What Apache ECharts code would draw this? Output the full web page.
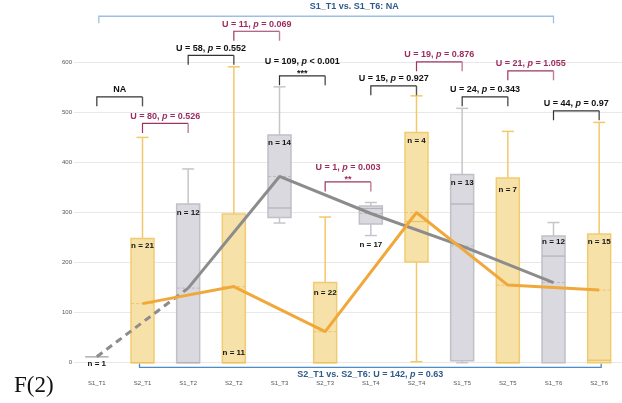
<!DOCTYPE html>
<html>
<head>
<meta charset="utf-8">
<script src="https://cdn.jsdelivr.net/npm/echarts@6/dist/echarts.min.js"></script>
<style>
  html, body { margin: 0; padding: 0; background: #ffffff; }
  #chart { width: 622px; height: 403px; }
</style>
</head>
<body>
<div id="chart"></div>
<script>
// ---- data ----
const categories  = ['S1_T1', 'S2_T1', 'S1_T2', 'S2_T2', 'S1_T3', 'S2_T3', 'S1_T4', 'S2_T4', 'S1_T5', 'S2_T5', 'S1_T6', 'S2_T6'];
const whiskerLow  = [12, 0, 0, 0, 279, 0, 254, 2, 0, 0, 0, 0];
const quartile1   = [12, 0, 0, 0, 290, 0, 277, 201, 4, 0, 0, 0];
const medians     = [12, 0, 0, 0, 309, 0, 308, 282, 317, 0, 213, 5];
const quartile3   = [12, 248, 317, 297, 455, 160, 313, 460, 376, 369, 253, 257];
const whiskerHigh = [12, 450, 387, 591, 551, 291, 320, 533, 508, 462, 280, 480];
const means       = [12, 118, 149, 152, 372, 62, 298, 300, 233, 155, 160, 145];
const sampleSizes = [1, 21, 12, 11, 14, 22, 17, 4, 13, 7, 12, 15];

// pairwise Mann-Whitney tests between neighbouring groups
const pairFrom  = ['S1_T1', 'S2_T1', 'S1_T2', 'S2_T2', 'S1_T3', 'S2_T3', 'S1_T4', 'S2_T4', 'S1_T5', 'S2_T5', 'S1_T6'];
const pairTo    = ['S2_T1', 'S1_T2', 'S2_T2', 'S1_T3', 'S2_T3', 'S1_T4', 'S2_T4', 'S1_T5', 'S2_T5', 'S1_T6', 'S2_T6'];
const pairU     = [null, 80, 58, 11, 109, 1, 15, 19, 24, 21, 44];
const pairP     = [null, '= 0.526', '= 0.552', '= 0.069', '< 0.001', '= 0.003', '= 0.927', '= 0.876', '= 0.343', '= 1.055', '= 0.97'];
const pairStars = ['', '', '', '', '***', '**', '', '', '', '', ''];

// first vs last time point, per group
const overallFrom = ['S1_T1', 'S2_T1'];
const overallTo   = ['S1_T6', 'S2_T6'];
const overallU    = [null, 142];
const overallP    = [null, '= 0.63'];

// ---- layout ----
const pairLevel    = [531, 478, 614, 662, 573, 361, 553, 601, 531, 583, 503];
const overallLevel = [692, -9.4];
const nLabelAnchor = ['low', 'top', 'top', 'base', 'top', 'top', 'low', 'top', 'top', 'top', 'top', 'top'];
const nLabelShift  = [7, 7, 9, -10, 8, 10, 9, 8, 8, 12, 6, 8];

const FONT = '"Liberation Sans", Arial, Helvetica, sans-serif';
const palette = {
  S1: { fill: '#D9D9DF', border: '#C0C0C7', whisker: '#C5C5CB', median: '#B2B2BA', mean: '#B8B8C0', line: '#8C8C8C' },
  S2: { fill: '#F6E1A9', border: '#F1CB72', whisker: '#F3C86A', median: '#EDC160', mean: '#EDC46A', line: '#F0A83A' }
};
const ink = {
  within: { line: '#333333', leg: '#555555', text: '#111111' },
  across: { line: '#9C3565', leg: '#C27C9C', text: '#9B2D5F' }
};
const groupOf = c => c.slice(0, 2);
const idx = c => categories.indexOf(c);

// ---- box plots ----
const boxRows = categories.map((c, i) => [i, whiskerLow[i], quartile1[i], medians[i], quartile3[i], whiskerHigh[i], means[i], sampleSizes[i]]);

function renderBox(params, api) {
  const i = api.value(0);
  const pal = palette[groupOf(categories[i])];
  const cx = api.coord([i, 0])[0];
  const py = v => api.coord([i, v])[1];
  const lo = api.value(1), q1 = api.value(2), med = api.value(3);
  const q3 = api.value(4), hi = api.value(5), mean = api.value(6), n = api.value(7);
  const half = 11.5, capHalf = 6;
  const wStyle = { stroke: pal.whisker, lineWidth: 1.5 };
  const kids = [];
  if (hi > q3) {
    kids.push({ type: 'line', shape: { x1: cx, y1: py(q3), x2: cx, y2: py(hi) }, style: wStyle });
    kids.push({ type: 'line', shape: { x1: cx - capHalf, y1: py(hi), x2: cx + capHalf, y2: py(hi) }, style: wStyle });
  }
  if (lo < q1) {
    kids.push({ type: 'line', shape: { x1: cx, y1: py(q1), x2: cx, y2: py(lo) }, style: wStyle });
    kids.push({ type: 'line', shape: { x1: cx - capHalf, y1: py(lo), x2: cx + capHalf, y2: py(lo) }, style: wStyle });
  }
  kids.push({
    type: 'rect',
    shape: { x: cx - half, y: py(q3), width: half * 2, height: Math.max(py(q1) - py(q3), 0) },
    style: { fill: pal.fill, stroke: pal.border, lineWidth: 1.5 }
  });
  kids.push({ type: 'line', shape: { x1: cx - half, y1: py(med), x2: cx + half, y2: py(med) }, style: { stroke: pal.median, lineWidth: 1.2 } });
  kids.push({ type: 'line', shape: { x1: cx - half, y1: py(mean), x2: cx + half, y2: py(mean) }, style: { stroke: pal.mean, lineWidth: 1, lineDash: [3, 2] } });

  const anchor = nLabelAnchor[i];
  const base = anchor === 'top' ? py(q3) : anchor === 'low' ? py(lo) : py(0);
  kids.push({
    type: 'text',
    style: {
      text: 'n = ' + n, x: cx, y: base + nLabelShift[i],
      align: 'center', verticalAlign: 'middle',
      fontFamily: FONT, fontWeight: 'bold', fontSize: 8, fill: '#111111'
    }
  });
  return { type: 'group', children: kids };
}

// ---- significance brackets ----
function statRich(prefix, u, p, style) {
  if (u === null) return { text: prefix + 'NA' };
  return { text: '{t|' + prefix + 'U = ' + u + ', }{i|p}{t| ' + p + '}' };
}
function richStyles(fill) {
  return {
    t: { fontFamily: FONT, fontWeight: 'bold', fontSize: 9, fill: fill },
    i: { fontFamily: FONT, fontWeight: 'bold', fontStyle: 'italic', fontSize: 9, fill: fill }
  };
}

const pairRows = pairFrom.map((f, k) => [idx(f), idx(pairTo[k]), pairLevel[k]]);

function renderPair(params, api) {
  const k = params.dataIndex;
  const a = api.coord([api.value(0), api.value(2)]);
  const b = api.coord([api.value(1), api.value(2)]);
  const col = groupOf(pairFrom[k]) === 'S1' ? ink.within : ink.across;
  const top = a[1], drop = 9.5;
  const mid = (a[0] + b[0]) / 2;
  const stars = pairStars[k];
  const kids = [
    { type: 'polyline', shape: { points: [[a[0], top + drop], [a[0], top], [b[0], top]] }, style: { stroke: col.line, lineWidth: 1.2, fill: null } },
    { type: 'line', shape: { x1: b[0], y1: top, x2: b[0], y2: top + drop }, style: { stroke: col.leg, lineWidth: 1.4 } }
  ];
  const lbl = statRich('', pairU[k], pairP[k]);
  kids.push({
    type: 'text',
    style: {
      text: lbl.text, rich: richStyles(col.text), x: mid, y: top - (stars ? 14 : 7),
      align: 'center', verticalAlign: 'middle',
      fontFamily: FONT, fontWeight: 'bold', fontSize: 9, fill: col.text
    }
  });
  if (stars) {
    kids.push({
      type: 'text',
      style: {
        text: stars, x: mid, y: top - 2.5, align: 'center', verticalAlign: 'middle',
        fontFamily: FONT, fontWeight: 'bold', fontSize: 9, fill: col.text
      }
    });
  }
  return { type: 'group', children: kids };
}

const overallRows = overallFrom.map((f, k) => [idx(f), idx(overallTo[k]), overallLevel[k]]);

function renderOverall(params, api) {
  const k = params.dataIndex;
  const a = api.coord([api.value(0), api.value(2)]);
  const b = api.coord([api.value(1), api.value(2)]);
  const y = a[1];
  const textFill = '#2E5B8B';
  const kids = [];
  let lbl;
  if (k === 0) {
    kids.push({ type: 'polyline', shape: { points: [[a[0] + 2, y + 7], [a[0] + 2, y], [b[0], y], [b[0], y + 7]] }, style: { stroke: '#9DBFE1', lineWidth: 1.3, fill: null } });
    lbl = statRich(overallFrom[k] + ' vs. ' + overallTo[k] + ': ', overallU[k], overallP[k]);
    kids.push({
      type: 'text',
      style: { text: lbl.text, x: (a[0] + b[0]) / 2 + 29, y: y - 9.3, align: 'center', verticalAlign: 'middle',
               fontFamily: FONT, fontWeight: 'bold', fontSize: 9, fill: textFill }
    });
  } else {
    const x1 = a[0] - 3, x2 = b[0] + 2;
    kids.push({ type: 'polyline', shape: { points: [[x1, y - 3.7], [x1, y], [x2, y], [x2, y - 3.7]] }, style: { stroke: '#4C8BC9', lineWidth: 1.3, fill: null } });
    lbl = statRich(overallFrom[k] + ' vs. ' + overallTo[k] + ': ', overallU[k], overallP[k]);
    kids.push({
      type: 'text',
      style: { text: lbl.text, rich: richStyles(textFill), x: (x1 + x2) / 2, y: y + 7.3, align: 'center', verticalAlign: 'middle',
               fontFamily: FONT, fontWeight: 'bold', fontSize: 9, fill: textFill }
    });
  }
  return { type: 'group', children: kids };
}

// ---- mean trend lines ----
const s1Idx = categories.map((c, i) => groupOf(c) === 'S1' ? i : -1).filter(i => i >= 0);
const s2Idx = categories.map((c, i) => groupOf(c) === 'S2' ? i : -1).filter(i => i >= 0);
const s1Lead  = categories.map((c, i) => (i === s1Idx[0] || i === s1Idx[1]) ? means[i] : '-');
const s1Trend = categories.map((c, i) => (groupOf(c) === 'S1' && i >= s1Idx[1]) ? means[i] : '-');
const s2Trend = categories.map((c, i) => groupOf(c) === 'S2' ? means[i] : '-');

const chart = echarts.init(document.getElementById('chart'), null, { renderer: 'canvas' });
chart.setOption({
  animation: false,
  backgroundColor: '#ffffff',
  grid: { left: 74, right: -2, top: 62.3, bottom: 40.3, containLabel: false },
  xAxis: {
    type: 'category',
    data: categories,
    boundaryGap: true,
    axisLine: { show: false },
    axisTick: { show: false },
    axisLabel: { fontSize: 6, color: '#555555', margin: 18, fontFamily: FONT },
    splitLine: { show: false }
  },
  yAxis: {
    type: 'value',
    min: 0, max: 600, interval: 100,
    axisLine: { show: false },
    axisTick: { show: false },
    axisLabel: { fontSize: 6, color: '#555555', margin: 2, fontFamily: FONT },
    splitLine: { lineStyle: { color: '#E8E8E8', width: 1 } }
  },
  graphic: [{
    type: 'text',
    left: 14, top: 374,
    style: { text: 'F(2)', font: '23px "Liberation Serif", "Times New Roman", serif', fill: '#111111' }
  }],
  series: [
    {
      type: 'custom', name: 'boxes', z: 2,
      renderItem: renderBox,
      data: boxRows,
      encode: { x: 0, y: [1, 2, 3, 4, 5] },
      clip: false
    },
    {
      type: 'line', name: 'S1 lead', z: 3, data: s1Lead, connectNulls: true,
      symbol: 'none', lineStyle: { color: palette.S1.line, width: 3, type: [7, 5] }
    },
    {
      type: 'line', name: 'S1 mean', z: 3, data: s1Trend, connectNulls: true,
      symbol: 'none', lineStyle: { color: palette.S1.line, width: 3 }
    },
    {
      type: 'line', name: 'S2 mean', z: 4, data: s2Trend, connectNulls: true,
      symbol: 'none', lineStyle: { color: palette.S2.line, width: 3 }
    },
    {
      type: 'custom', name: 'pairs', z: 5,
      renderItem: renderPair,
      data: pairRows,
      encode: { x: [0, 1], y: 2 },
      clip: false
    },
    {
      type: 'custom', name: 'overall', z: 5,
      renderItem: renderOverall,
      data: overallRows,
      encode: { x: [0, 1], y: 2 },
      clip: false
    }
  ]
});
</script>
</body>
</html>
